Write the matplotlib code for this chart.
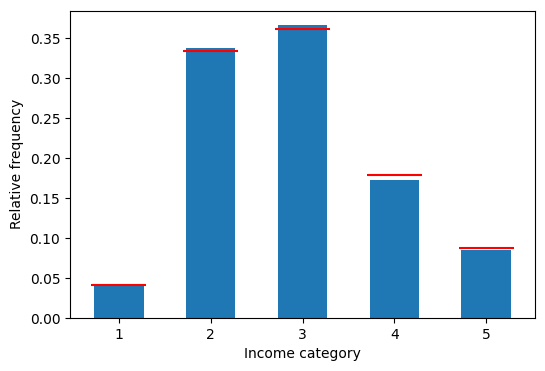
import matplotlib
matplotlib.use("Agg")
import matplotlib.pyplot as plt

categories = [1, 2, 3, 4, 5]
sample_freq = [0.0405, 0.3380, 0.3666, 0.1722, 0.0851]
overall_freq = [0.0418, 0.3342, 0.3622, 0.1785, 0.0876]

fig = plt.figure(figsize=(5.45, 3.71), dpi=100)
ax = fig.add_axes([70 / 545, 53 / 371, 465 / 545, 307.5 / 371])

ax.bar(categories, sample_freq, width=0.54, color="#1f77b4")
for c, f in zip(categories, overall_freq):
    ax.hlines(f, c - 0.3, c + 0.3, colors="red", linewidth=1.5)

ax.set_xticks(categories)
ax.set_xlabel("Income category")
ax.set_ylabel("Relative frequency")

fig.savefig("out.png", dpi=100)
